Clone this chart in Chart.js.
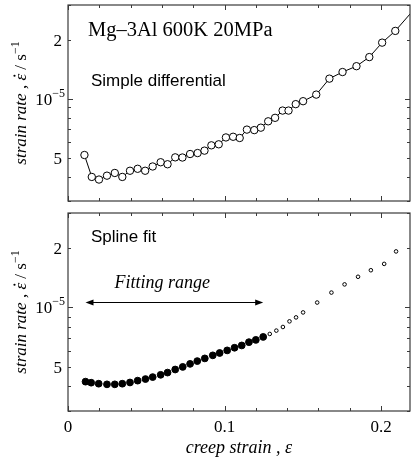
<!DOCTYPE html>
<html>
<head>
<meta charset="utf-8">
<title>Mg-3Al creep strain rate</title>
<script src="https://cdn.jsdelivr.net/npm/chart.js@4.4.1/dist/chart.umd.min.js"></script>
<style>
  html, body { margin: 0; padding: 0; background: #fff; }
  #wrap { position: relative; width: 415px; height: 457px; overflow: hidden; }
  canvas { position: absolute; left: 0; }
  #topChart { top: 0; }
  #bottomChart { top: 207px; }
</style>
</head>
<body>
<div id="wrap">
  <canvas id="topChart" width="415" height="206"></canvas>
  <canvas id="bottomChart" width="415" height="250"></canvas>
</div>
<script>
// --- Data ---

// Upper panel: simple differential (last point lies past the right edge)
const strainDiff = [0.0105, 0.0152, 0.0198, 0.0249, 0.0299, 0.0347, 0.0396, 0.0445, 0.0493, 0.0541,
  0.0592, 0.0636, 0.0685, 0.0731, 0.0780, 0.0828, 0.0872, 0.0916, 0.0963, 0.1009,
  0.1055, 0.1097, 0.1143, 0.1190, 0.1232, 0.1279, 0.1323, 0.1371, 0.1409, 0.1455,
  0.1502, 0.1586, 0.1670, 0.1754, 0.1843, 0.1925, 0.2007, 0.2091, 0.2260];
const rateDiff = [5.15e-6, 3.98e-6, 3.86e-6, 4.04e-6, 4.17e-6, 3.98e-6, 4.28e-6, 4.38e-6, 4.28e-6, 4.50e-6,
  4.73e-6, 4.62e-6, 5.01e-6, 5.00e-6, 5.21e-6, 5.27e-6, 5.42e-6, 5.77e-6, 5.84e-6, 6.33e-6,
  6.38e-6, 6.29e-6, 6.94e-6, 6.90e-6, 7.10e-6, 7.65e-6, 7.97e-6, 8.68e-6, 8.68e-6, 9.36e-6,
  9.69e-6, 1.047e-5, 1.263e-5, 1.365e-5, 1.462e-5, 1.627e-5, 1.928e-5, 2.213e-5, 3.16e-5];

// Lower panel: spline fit, points inside the fitting range
const strainFit = [0.0112, 0.0148, 0.0196, 0.0249, 0.0299, 0.0347, 0.0396, 0.0445, 0.0495, 0.0541,
  0.0592, 0.0636, 0.0685, 0.0733, 0.0780, 0.0826, 0.0874, 0.0925, 0.0969, 0.1017,
  0.1064, 0.1110, 0.1156, 0.1200, 0.1247];
const rateFit = [4.22e-6, 4.17e-6, 4.12e-6, 4.09e-6, 4.09e-6, 4.12e-6, 4.18e-6, 4.27e-6, 4.35e-6, 4.45e-6,
  4.57e-6, 4.69e-6, 4.86e-6, 5.01e-6, 5.19e-6, 5.36e-6, 5.53e-6, 5.73e-6, 5.89e-6, 6.07e-6,
  6.26e-6, 6.43e-6, 6.68e-6, 6.86e-6, 7.10e-6];

// Lower panel: spline fit, points beyond the fitting range
const strainOut = [0.1289, 0.1331, 0.1373, 0.1415, 0.1457, 0.1502, 0.1592, 0.1683, 0.1767, 0.1853,
  0.1935, 0.2020, 0.2096];
const rateOut = [7.35e-6, 7.64e-6, 7.97e-6, 8.51e-6, 8.91e-6, 9.44e-6, 1.059e-5, 1.189e-5, 1.308e-5, 1.429e-5,
  1.542e-5, 1.66e-5, 1.919e-5];

// Axes
const xRange = [0, 0.2185];
const xTickValues = [0, 0.02, 0.04, 0.06, 0.08, 0.1, 0.12, 0.14, 0.16, 0.18, 0.2];
const xLabelValues = [0, 0.1, 0.2];
const xLabels = ['0', '0.1', '0.2'];

const yRange = [3e-6, 3e-5];
const yTickValues = [3e-6, 4e-6, 5e-6, 6e-6, 7e-6, 8e-6, 9e-6, 1e-5, 2e-5, 3e-5];
const yLabelValues = [5e-6, 1e-5, 2e-5];
const yLabels = [['5', ''], ['10', '\u22125'], ['2', '']];   // [base, superscript]

const SERIF = "'Liberation Serif', 'Times New Roman', serif";
const SANS = "'Liberation Sans', Arial, sans-serif";
const INK = '#000';
const FRAME = '#3a3a3a';

const toPoints = (xs, ys) => xs.map((x, i) => ({ x, y: ys[i] }));
const sameValue = (a, b) => Math.abs(a - b) <= Math.abs(b) * 1e-6 + 1e-12;

// --- Frame with inward tick marks on all four sides ---
const frameTicks = {
  id: 'frameTicks',
  afterDatasetsDraw(chart) {
    const { ctx, chartArea: a } = chart;
    const xs = chart.scales.x;
    const ys = chart.scales.y;
    ctx.save();
    ctx.strokeStyle = FRAME;
    ctx.lineWidth = 1.2;
    ctx.strokeRect(a.left, a.top, a.right - a.left, a.bottom - a.top);
    ctx.lineWidth = 1;
    ctx.beginPath();
    xTickValues.forEach(v => {
      const px = Math.round(xs.getPixelForValue(v)) + 0.5;
      const len = xLabelValues.some(t => sameValue(v, t)) ? 5 : 3;
      ctx.moveTo(px, a.bottom); ctx.lineTo(px, a.bottom - len);
      ctx.moveTo(px, a.top); ctx.lineTo(px, a.top + len);
    });
    yTickValues.forEach(v => {
      const py = Math.round(ys.getPixelForValue(v)) + 0.5;
      const len = sameValue(v, 1e-5) ? 5 : 3;
      ctx.moveTo(a.left, py); ctx.lineTo(a.left + len, py);
      ctx.moveTo(a.right, py); ctx.lineTo(a.right - len, py);
    });
    ctx.stroke();
    ctx.restore();
  }
};

// --- Y tick labels (with superscript) and the y axis title ---
const yAxisText = {
  id: 'yAxisText',
  afterDraw(chart) {
    const { ctx, chartArea: a } = chart;
    const ys = chart.scales.y;
    ctx.save();
    ctx.fillStyle = INK;
    ctx.textBaseline = 'alphabetic';

    yLabelValues.forEach((v, i) => {
      const py = ys.getPixelForValue(v);
      const [base, sup] = yLabels[i];
      ctx.font = `17px ${SERIF}`;
      const wb = ctx.measureText(base).width;
      ctx.font = `12px ${SERIF}`;
      const ws = sup ? ctx.measureText(sup).width : 0;
      const right = sup ? a.left - 3 : a.left - 6;
      ctx.textAlign = 'left';
      ctx.font = `17px ${SERIF}`;
      ctx.fillText(base, right - ws - wb, py + 6);
      if (sup) {
        ctx.font = `12px ${SERIF}`;
        ctx.fillText(sup, right - ws, py - 2);
      }
    });

    // "strain rate , ε̇ / s^-1", rotated, centred on the panel
    const parts = [
      { t: 'strain rate , ', f: `italic 17px ${SERIF}`, dy: 0 },
      { t: '\u03B5', f: `italic 17px ${SERIF}`, dy: 0, dot: true },
      { t: ' / s', f: `17px ${SERIF}`, dy: 0 },
      { t: '\u22121', f: `12px ${SERIF}`, dy: -7 }
    ];
    let total = 0;
    parts.forEach(p => { ctx.font = p.f; p.w = ctx.measureText(p.t).width; total += p.w; });
    ctx.translate(20, (a.top + a.bottom) / 2);
    ctx.rotate(-Math.PI / 2);
    ctx.textAlign = 'left';
    let x = -total / 2;
    parts.forEach(p => {
      ctx.font = p.f;
      ctx.fillText(p.t, x, 6 + p.dy);
      if (p.dot) {
        ctx.beginPath();
        ctx.arc(x + p.w / 2 + 1.5, 6 - 11.5, 1.1, 0, Math.PI * 2);
        ctx.fill();
      }
      x += p.w;
    });
    ctx.restore();
  }
};

// --- Panel captions and the fitting range arrow ---
const captions = {
  id: 'captions',
  afterDraw(chart, args, opts) {
    const { ctx, chartArea: a } = chart;
    ctx.save();
    ctx.fillStyle = INK;
    ctx.textBaseline = 'middle';
    ctx.textAlign = 'left';
    (opts.items || []).forEach(it => {
      ctx.font = it.font;
      ctx.fillText(it.text, a.left + it.dx, a.top + it.dy);
    });
    if (opts.arrow) {
      const xs = chart.scales.x, ys = chart.scales.y;
      const r = opts.arrow;
      const x1 = xs.getPixelForValue(r.from), x2 = xs.getPixelForValue(r.to);
      const y = Math.round(ys.getPixelForValue(r.rate)) + 0.5;
      ctx.strokeStyle = INK;
      ctx.lineWidth = 1;
      ctx.beginPath();
      ctx.moveTo(x1 + 4, y); ctx.lineTo(x2 - 4, y);
      ctx.stroke();
      const head = (tip, dir) => {
        ctx.beginPath();
        ctx.moveTo(tip, y);
        ctx.lineTo(tip - dir * 8, y - 3);
        ctx.lineTo(tip - dir * 8, y + 3);
        ctx.closePath();
        ctx.fill();
      };
      head(x1, -1);
      head(x2, 1);
      ctx.font = r.font;
      ctx.fillText(r.label, xs.getPixelForValue(r.labelAt), ys.getPixelForValue(r.labelRate));
    }
    ctx.restore();
  }
};

const yAxis = () => ({
  type: 'logarithmic',
  min: yRange[0],
  max: yRange[1],
  afterBuildTicks: s => { s.ticks = yLabelValues.map(v => ({ value: v })); },
  afterFit: s => { s.width = 68; },
  grid: { display: false, drawTicks: false },
  border: { display: false },
  ticks: { display: false },
  title: { display: false }
});

const baseOptions = () => ({
  responsive: false,
  animation: false,
  events: [],
  plugins: { legend: { display: false }, tooltip: { enabled: false } },
  elements: { line: { tension: 0 } }
});

// Upper panel
const topOptions = baseOptions();
topOptions.layout = { padding: { top: 4, bottom: 4, left: 0, right: 1 } };
topOptions.scales = {
  x: { type: 'linear', min: xRange[0], max: xRange[1], display: false },
  y: yAxis()
};
topOptions.plugins.captions = {
  items: [
    { text: 'Mg\u20133Al 600K 20MPa', font: `20.5px ${SERIF}`, dx: 20, dy: 26 },
    { text: 'Simple differential', font: `17px ${SANS}`, dx: 23, dy: 76 }
  ]
};

new Chart(document.getElementById('topChart'), {
  type: 'line',
  data: {
    datasets: [{
      data: toPoints(strainDiff, rateDiff),
      borderColor: INK,
      borderWidth: 1,
      pointRadius: 3.7,
      pointBorderWidth: 1,
      pointBackgroundColor: '#fff',
      pointBorderColor: INK
    }]
  },
  options: topOptions,
  plugins: [frameTicks, yAxisText, captions]
});

// Lower panel
const bottomOptions = baseOptions();
bottomOptions.layout = { padding: { top: 6, bottom: 0, left: 0, right: 1 } };
bottomOptions.scales = {
  x: {
    type: 'linear',
    min: xRange[0],
    max: xRange[1],
    afterBuildTicks: s => { s.ticks = xLabelValues.map(v => ({ value: v })); },
    afterFit: s => { s.height = 46; },
    grid: { display: false, drawTicks: false },
    border: { display: false },
    ticks: {
      autoSkip: false,
      maxRotation: 0,
      padding: 6,
      color: INK,
      font: { family: SERIF, size: 17 },
      callback: v => {
        const i = xLabelValues.findIndex(t => sameValue(v, t));
        return i >= 0 ? xLabels[i] : '';
      }
    },
    title: {
      display: true,
      text: 'creep strain , \u03B5',
      color: INK,
      font: { family: SERIF, size: 18, style: 'italic', lineHeight: 1 },
      padding: { top: 0, bottom: 0 }
    }
  },
  y: yAxis()
};
bottomOptions.plugins.captions = {
  items: [
    { text: 'Spline fit', font: `17px ${SANS}`, dx: 23, dy: 24 }
  ],
  arrow: {
    from: strainFit[0],
    to: strainFit[strainFit.length - 1],
    rate: 1.07e-5,
    label: 'Fitting range',
    labelAt: 0.0297,
    labelRate: 1.33e-5,
    font: `italic 18px ${SERIF}`
  }
};

new Chart(document.getElementById('bottomChart'), {
  type: 'scatter',
  data: {
    datasets: [{
      data: toPoints(strainFit, rateFit),
      showLine: false,
      pointRadius: 3.4,
      pointBorderWidth: 1,
      pointBackgroundColor: INK,
      pointBorderColor: INK
    }, {
      data: toPoints(strainOut, rateOut),
      showLine: false,
      pointRadius: 1.8,
      pointBorderWidth: 1,
      pointBackgroundColor: '#fff',
      pointBorderColor: INK
    }]
  },
  options: bottomOptions,
  plugins: [frameTicks, yAxisText, captions]
});
</script>
</body>
</html>
